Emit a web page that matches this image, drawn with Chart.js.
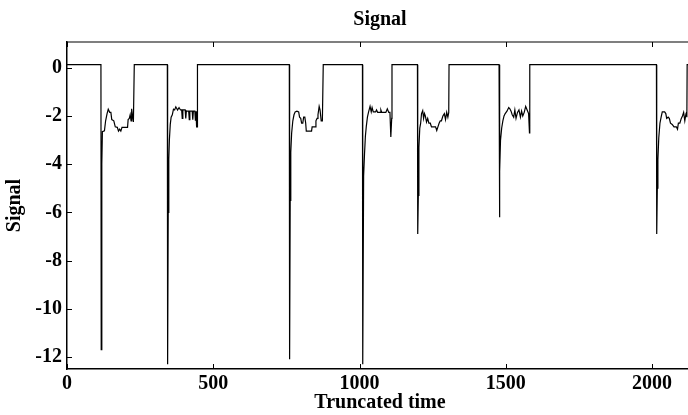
<!DOCTYPE html>
<html>
<head>
<meta charset="utf-8">
<title>Signal</title>
<script src="https://cdn.jsdelivr.net/npm/chart.js@4.4.1/dist/chart.umd.min.js"></script>
<style>
    html, body { margin: 0; padding: 0; overflow: hidden; background: #fff; }
    #wrap { width: 700px; height: 415px; }
</style>
</head>
<body>
<div id="wrap"><canvas id="signalChart" width="700" height="415"></canvas></div>
<script>
// values, one burst per line
const time = [
    0, 116, 117, 119, 121, 128, 132, 137, 141, 146, 150, 153, 160, 165, 172, 176, 180, 184, 188, 207, 209, 213, 216, 219, 221, 224, 227, 229, 230,
    343, 344, 346, 348, 350, 353, 356, 360, 364, 368, 372, 378, 383, 388, 392, 394, 396, 404, 406, 408, 416, 418, 420, 428, 430, 432, 437, 439, 441, 443, 445, 446,
    760, 761, 763, 765, 768, 772, 776, 780, 786, 792, 795, 799, 802, 806, 809, 813, 816, 818, 836, 838, 848, 851, 855, 858, 862, 865, 869, 873, 875, 876,
    1010, 1011, 1014, 1017, 1020, 1023, 1027, 1031, 1036, 1040, 1043, 1047, 1055, 1058, 1062, 1070, 1073, 1076, 1090, 1095, 1100, 1104, 1107, 1110, 1111,
    1198, 1199, 1201, 1203, 1206, 1209, 1212, 1216, 1219, 1222, 1225, 1229, 1233, 1237, 1242, 1246, 1260, 1264, 1268, 1272, 1276, 1280, 1285, 1290, 1294, 1298, 1302, 1305, 1306,
    1477, 1478, 1480, 1482, 1486, 1490, 1494, 1498, 1504, 1510, 1514, 1518, 1522, 1527, 1531, 1535, 1540, 1545, 1550, 1554, 1558, 1563, 1568, 1573, 1578, 1581, 1582,
    2015, 2016, 2018, 2020, 2023, 2027, 2031, 2035, 2043, 2047, 2050, 2055, 2059, 2063, 2069, 2075, 2083, 2087, 2090, 2095, 2100, 2104, 2108, 2112, 2116, 2118, 2119, 2120, 2140
];
const signal = [
    0.13, 0.13, -11.7, -4.0, -2.65, -2.62, -2.2, -1.9, -1.72, -1.85, -1.85, -2.15, -2.2, -2.45, -2.47, -2.63, -2.55, -2.63, -2.47, -2.47, -2.15, -2.1, -1.95, -2.2, -1.7, -2.0, -2.25, -2.25, 0.13,
    0.13, -12.3, -6.0, -3.8, -3.0, -2.35, -2.05, -1.95, -1.72, -1.75, -1.62, -1.75, -1.65, -1.75, -1.75, -2.1, -1.75, -1.75, -2.1, -1.8, -1.8, -2.15, -1.8, -1.8, -2.15, -1.8, -1.8, -2.2, -1.8, -2.45, -2.45, 0.13,
    0.13, -12.1, -5.5, -3.5, -2.7, -2.2, -1.95, -1.83, -1.8, -1.83, -2.05, -2.1, -2.3, -2.3, -2.05, -2.05, -2.3, -2.63, -2.63, -2.45, -2.45, -2.2, -2.1, -1.95, -1.6, -1.75, -2.2, -2.2, -2.2, 0.13,
    0.13, -12.3, -4.5, -3.6, -2.85, -2.45, -2.05, -1.83, -1.6, -1.83, -1.65, -1.83, -1.83, -1.75, -1.85, -1.85, -1.75, -1.85, -1.85, -1.7, -1.85, -1.85, -2.87, -2.1, 0.13,
    0.13, -6.9, -5.3, -3.3, -2.5, -2.3, -1.9, -1.78, -2.1, -1.9, -2.0, -2.25, -2.1, -2.3, -2.3, -2.45, -2.45, -2.6, -2.45, -2.3, -2.2, -2.2, -2.0, -1.9, -2.15, -1.85, -2.05, -1.85, 0.13,
    0.13, -6.2, -4.3, -3.0, -2.5, -2.2, -2.0, -1.9, -1.8, -1.65, -1.7, -1.8, -1.95, -2.05, -1.75, -2.1, -1.85, -1.75, -2.05, -1.8, -2.0, -1.85, -1.6, -1.75, -1.9, -2.7, 0.13,
    0.13, -6.9, -5.0, -3.8, -2.9, -2.3, -2.05, -1.83, -1.83, -1.9, -2.1, -2.05, -2.1, -2.3, -2.35, -2.45, -2.45, -2.55, -2.3, -2.3, -2.1, -2.0, -1.85, -2.2, -1.9, -1.85, -2.05, 0.13, 0.13
];
const xTicks = [0, 500, 1000, 1500, 2000];
const yTicks = [-12, -10, -8, -6, -4, -2, 0];

const fontFamily = '"Liberation Serif", "Times New Roman", serif';
const boldFont = { family: fontFamily, size: 20, weight: 'bold' };

// MATLAB-like box: top/right edges and inward tick marks
const boxPlugin = {
    id: 'boxPlugin',
    afterDraw(chart) {
        const { ctx, chartArea: a, scales } = chart;
        const len = 5;
        ctx.save();
        ctx.strokeStyle = '#000';
        ctx.lineWidth = 1.2;
        ctx.beginPath();
        ctx.moveTo(a.left, a.top);
        ctx.lineTo(a.right, a.top);
        ctx.lineTo(a.right, a.bottom);
        ctx.stroke();

        ctx.lineWidth = 1;
        ctx.beginPath();
        xTicks.forEach(v => {
            const px = Math.round(scales.x.getPixelForValue(v)) + 0.5;
            ctx.moveTo(px, a.bottom);
            ctx.lineTo(px, a.bottom - len);
            ctx.moveTo(px, a.top);
            ctx.lineTo(px, a.top + len);
        });
        yTicks.forEach(v => {
            const py = Math.round(scales.y.getPixelForValue(v)) + 0.5;
            ctx.moveTo(a.left, py);
            ctx.lineTo(a.left + len, py);
            ctx.moveTo(a.right, py);
            ctx.lineTo(a.right - len, py);
        });
        ctx.stroke();
        ctx.restore();
    }
};

const ctx = document.getElementById('signalChart').getContext('2d');
new Chart(ctx, {
    type: 'line',
    data: {
        datasets: [{
            data: time.map((t, i) => ({ x: t, y: signal[i] })),
            borderColor: '#000',
            borderWidth: 1.2,
            pointRadius: 0,
            tension: 0,
            fill: false
        }]
    },
    options: {
        responsive: false,
        animation: false,
        events: [],
        layout: { padding: { left: 0, right: 7, top: 0, bottom: 0 } },
        plugins: {
            legend: { display: false },
            tooltip: { enabled: false },
            title: {
                display: true,
                fullSize: false,
                text: 'Signal',
                color: '#000',
                font: boldFont,
                padding: { top: 8, bottom: 10 }
            }
        },
        scales: {
            x: {
                type: 'linear',
                min: 0,
                max: 2140,
                afterFit: s => { s.height = 46; },
                afterBuildTicks: s => { s.ticks = xTicks.map(v => ({ value: v })); },
                grid: { display: false, drawTicks: false },
                border: { display: true, color: '#000', width: 1.5 },
                ticks: {
                    color: '#000',
                    font: boldFont,
                    padding: 3,
                    autoSkip: false,
                    maxRotation: 0,
                    callback: v => String(v)
                },
                title: {
                    display: true,
                    text: 'Truncated time',
                    color: '#000',
                    font: boldFont,
                    padding: { top: 0, bottom: 0 }
                }
            },
            y: {
                min: -12.5,
                max: 1.07,
                afterFit: s => { s.width = 67; },
                afterBuildTicks: s => { s.ticks = yTicks.map(v => ({ value: v })); },
                grid: { display: false, drawTicks: false },
                border: { display: true, color: '#000', width: 1.5 },
                ticks: {
                    color: '#000',
                    font: boldFont,
                    padding: 5,
                    autoSkip: false,
                    callback: v => String(v)
                },
                title: {
                    display: true,
                    text: 'Signal',
                    color: '#000',
                    font: boldFont,
                    padding: { top: 3, bottom: 0 }
                }
            }
        }
    },
    plugins: [boxPlugin]
});
</script>
</body>
</html>
